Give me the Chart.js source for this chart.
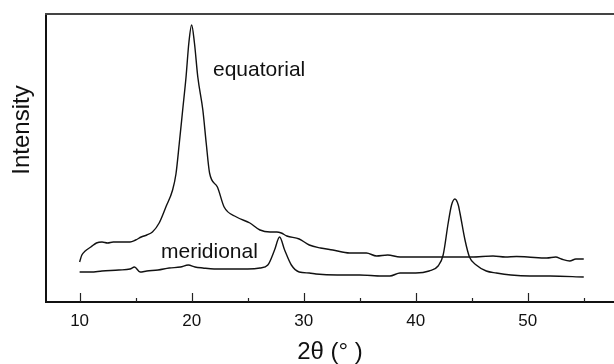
<!DOCTYPE html>
<html>
<head>
<meta charset="utf-8">
<title>2θ scan</title>
<script src="https://cdn.jsdelivr.net/npm/chart.js@4/dist/chart.umd.min.js"></script>
<style>
  body { margin: 0; background: #fff; }
  canvas { display: block; }
</style>
</head>
<body>
<canvas id="chart" width="614" height="364"></canvas>
<script>
// 2θ (deg) and intensity (arbitrary units)
const equatorialX = [10.0, 10.2, 10.5, 11.0, 11.5, 12.0, 12.5, 13.0, 13.5, 14.0, 14.5, 15.0, 15.5, 16.0, 16.5, 17.1, 17.7, 18.3, 18.6, 18.9, 19.2, 19.5, 19.75, 20.0, 20.25, 20.55, 21.0, 21.3, 21.6, 22.3, 22.9, 24.0, 25.2, 26.1, 27.0, 27.6, 28.0, 28.5, 29.6, 30.5, 31.5, 32.6, 34.1, 35.6, 36.5, 37.5, 38.6, 40.0, 41.0, 43.0, 45.0, 46.9, 48.0, 49.0, 50.0, 51.7, 52.5, 53.0, 53.75, 54.3, 55.0]
const equatorialY = [40, 47, 51, 55, 59, 60, 59, 60, 60, 60, 60, 62, 65, 67, 70, 79, 95, 112, 128, 159, 192, 225, 259, 277, 259, 225, 192, 159, 129, 115, 95, 85, 79, 72, 70, 70, 69, 66, 63, 57, 54, 52, 49, 49, 46, 47, 45, 45, 45, 45, 45, 46, 45, 45.5, 45, 44, 45, 43, 41, 43, 43]

const meridionalX = [10.0, 11.0, 12.0, 13.5, 14.5, 14.9, 15.4, 16.0, 17.0, 18.0, 19.0, 19.7, 20.3, 21.0, 22.0, 23.7, 25.0, 26.1, 26.8, 27.4, 27.85, 28.3, 28.9, 29.6, 30.5, 31.1, 33.0, 35.0, 37.0, 37.7, 38.6, 40.0, 41.2, 42.0, 42.45, 42.9, 43.2, 43.5, 43.8, 43.95, 44.4, 44.8, 45.4, 46.3, 47.2, 48.5, 50.2, 52.0, 55.0]
const meridionalY = [30, 30, 31, 32, 33, 35, 30, 31, 32, 34, 35, 37, 35, 34, 33, 33, 33, 34, 37, 52, 65, 52, 37, 30, 29, 28, 27, 27, 26, 26, 29, 29, 31, 36, 47, 79, 97, 103, 97, 89, 62, 45, 37, 31, 29, 27, 26, 26, 25]

const xTicks = [10, 20, 30, 40, 50]
const minorTicks = [15, 25, 35, 45, 55]

const toPoints = (xs, ys) => xs.map((x, i) => ({ x: x, y: ys[i] }))

const font = "'Liberation Sans', Arial, sans-serif"

// frame top, inward tick marks and the text labels
const decorations = {
  id: "decorations",
  afterDraw(chart) {
    const ctx = chart.ctx
    const area = chart.chartArea
    const xScale = chart.scales.x

    ctx.save()
    ctx.strokeStyle = "#444"
    ctx.lineWidth = 2
    ctx.beginPath()
    ctx.moveTo(area.left - 1, area.top)
    ctx.lineTo(area.right, area.top)
    ctx.stroke()

    ctx.strokeStyle = "#222"
    ctx.lineWidth = 1.2
    xTicks.forEach((v) => {
      const px = Math.round(xScale.getPixelForValue(v)) + 0.5
      ctx.beginPath()
      ctx.moveTo(px, area.bottom)
      ctx.lineTo(px, area.bottom - 9)
      ctx.stroke()
    })
    minorTicks.forEach((v) => {
      const px = Math.round(xScale.getPixelForValue(v)) + 0.5
      ctx.beginPath()
      ctx.moveTo(px, area.bottom)
      ctx.lineTo(px, area.bottom - 4)
      ctx.stroke()
    })

    ctx.fillStyle = "#111"
    ctx.textBaseline = "alphabetic"
    ctx.textAlign = "left"
    ctx.font = "21px " + font
    ctx.fillText("equatorial", 213, 76)
    ctx.fillText("meridional", 161, 258)

    ctx.textAlign = "center"
    ctx.font = "24px " + font
    ctx.fillText("2θ (° )", 330, 359)

    ctx.translate(29, 130)
    ctx.rotate(-Math.PI / 2)
    ctx.fillText("Intensity", 0, 0)
    ctx.restore()
  }
}

new Chart(document.getElementById("chart"), {
  type: "line",
  data: {
    datasets: [
      { label: "equatorial", data: toPoints(equatorialX, equatorialY) },
      { label: "meridional", data: toPoints(meridionalX, meridionalY) }
    ]
  },
  options: {
    responsive: false,
    animation: false,
    layout: { padding: { top: 14, right: 0, bottom: 0, left: 0 } },
    elements: {
      point: { radius: 0 },
      line: { borderColor: "#111", borderWidth: 1.4, cubicInterpolationMode: "monotone" }
    },
    plugins: { legend: { display: false }, tooltip: { enabled: false } },
    scales: {
      x: {
        type: "linear",
        min: 7,
        max: 57.7,
        grid: { display: false, drawTicks: false },
        border: { display: true, color: "#111", width: 2 },
        afterBuildTicks: (scale) => { scale.ticks = xTicks.map((v) => ({ value: v })) },
        afterFit: (scale) => { scale.height = 62 },
        ticks: { color: "#111", padding: 9, font: { family: font, size: 17 } }
      },
      y: {
        min: 0,
        max: 288,
        grid: { display: false, drawTicks: false },
        border: { display: true, color: "#111", width: 2 },
        ticks: { display: false },
        afterFit: (scale) => { scale.width = 46 }
      }
    }
  },
  plugins: [decorations]
})
</script>
</body>
</html>
